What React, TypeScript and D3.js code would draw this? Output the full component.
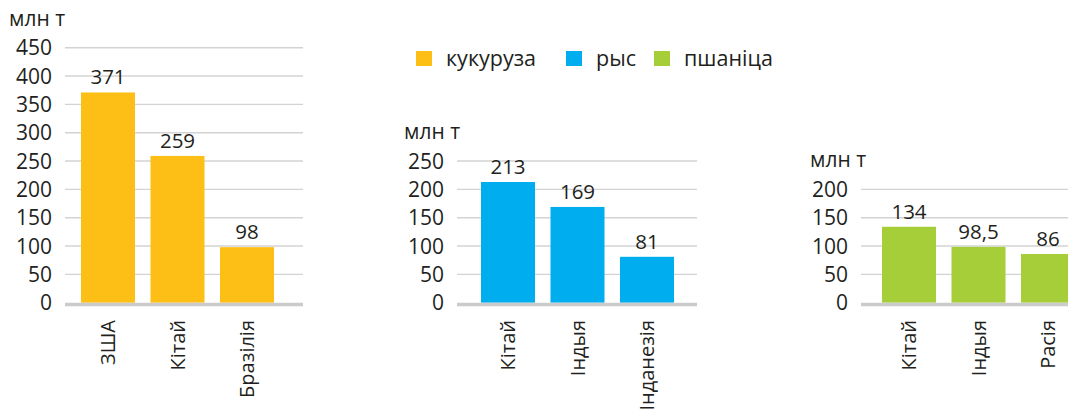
import React from "react";
import * as d3 from "d3";

const WIDTH = 1068;
const HEIGHT = 412;
const FONT = "'Open Sans', 'Noto Sans', sans-serif";
const TEXT = "#231f20";

// data
const maizeCountries = ["ЗША", "Кітай", "Бразілія"];
const maizeValues = [371, 259, 98];
const riceCountries = ["Кітай", "Індыя", "Інданезія"];
const riceValues = [213, 169, 81];
const wheatCountries = ["Кітай", "Індыя", "Расія"];
const wheatValues = [134, 98.5, 86];
const crops = ["кукуруза", "рыс", "пшаніца"];
const cropColors = ["#fdbe16", "#00aeef", "#a6ce39"];
const yMaxes = [450, 250, 200];
const unitLabel = "млн т";

// layout of each small chart
const BASE_Y = 302.7;
const PX_PER_UNIT = 255 / 450;
const panels = [
  { gridX0: 65, gridX1: 303, bar0: 81, unitX: 9, labels: maizeCountries, values: maizeValues },
  { gridX0: 457, gridX1: 697, bar0: 481, unitX: 404, labels: riceCountries, values: riceValues },
  { gridX0: 861, gridX1: 1068, bar0: 882, unitX: 810, labels: wheatCountries, values: wheatValues },
];

const fmt = (v: number) => String(v).replace(".", ",");

function Panel({ idx }: { idx: number }) {
  const p = panels[idx];
  const max = yMaxes[idx];
  const y = d3
    .scaleLinear()
    .domain([0, max])
    .range([BASE_Y, BASE_Y - max * PX_PER_UNIT]);
  const step = 69.5;
  const x = d3
    .scaleBand<string>()
    .domain(p.labels)
    .range([p.bar0 - 7.75, p.bar0 - 7.75 + step * 3])
    .paddingInner(15.5 / step)
    .paddingOuter(7.75 / step);
  const ticks = d3.range(0, max + 1, 50);

  return (
    <g>
      <text x={p.unitX} y={y(max) - 22} fontSize={21} fill={TEXT} fontFamily={FONT}>
        {unitLabel}
      </text>
      {ticks.map((t) =>
        t > 0 ? (
          <line key={t} x1={p.gridX0} x2={p.gridX1} y1={y(t)} y2={y(t)} stroke="#d3d3d3" strokeWidth={1.4} />
        ) : null
      )}
      {ticks.map((t) => (
        <text
          key={"l" + t}
          x={p.gridX0 - 13}
          y={y(t)}
          dy="0.36em"
          textAnchor="end"
          fontSize={21}
          fill={TEXT}
          fontFamily={FONT}
        >
          {t}
        </text>
      ))}
      {p.values.map((v, i) => (
        <rect
          key={"b" + i}
          x={x(p.labels[i])}
          y={y(v)}
          width={x.bandwidth()}
          height={BASE_Y - y(v)}
          fill={cropColors[idx]}
        />
      ))}
      <line x1={p.gridX0} x2={p.gridX1} y1={BASE_Y + 1.7} y2={BASE_Y + 1.7} stroke="#cbcbcc" strokeWidth={3.5} />
      {p.values.map((v, i) => (
        <text
          key={"v" + i}
          x={(x(p.labels[i]) || 0) + x.bandwidth() / 2}
          y={y(v) - 8}
          textAnchor="middle"
          fontSize={20.5}
          fill={TEXT}
          fontFamily={FONT}
        >
          {fmt(v)}
        </text>
      ))}
      {p.labels.map((c) => {
        const cx = (x(c) || 0) + x.bandwidth() / 2;
        return (
          <text
            key={"c" + c}
            transform={`translate(${cx + 7},320) rotate(-90)`}
            textAnchor="end"
            fontSize={20}
            fill={TEXT}
            fontFamily={FONT}
          >
            {c}
          </text>
        );
      })}
    </g>
  );
}

function Legend() {
  const xs = [416, 566, 654];
  return (
    <g>
      {crops.map((c, i) => (
        <g key={c}>
          <rect x={xs[i]} y={51} width={16} height={15} fill={cropColors[i]} />
          <text x={xs[i] + 30} y={66} fontSize={21.5} fill={TEXT} fontFamily={FONT}>
            {c}
          </text>
        </g>
      ))}
    </g>
  );
}

export default function App() {
  return (
    <svg
      width={WIDTH}
      height={HEIGHT}
      style={{ position: "absolute", left: 0, top: 0, background: "#fff" }}
    >
      <Panel idx={0} />
      <Panel idx={1} />
      <Panel idx={2} />
      <Legend />
    </svg>
  );
}
